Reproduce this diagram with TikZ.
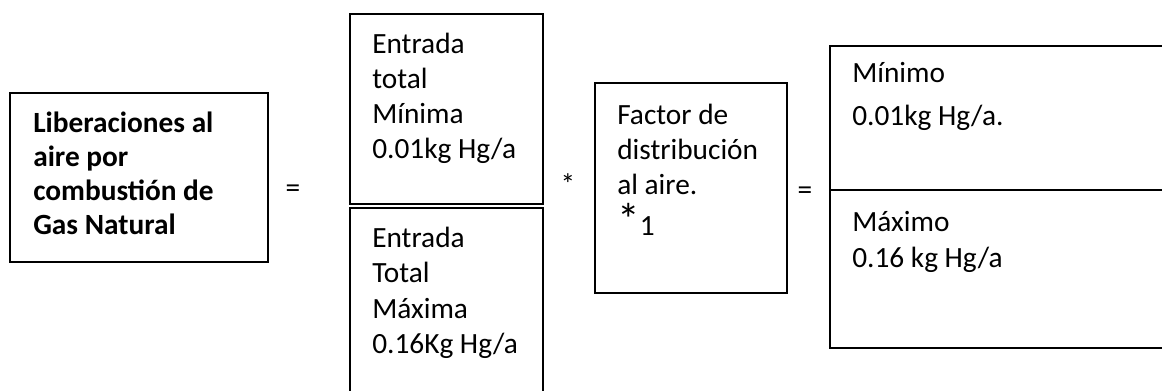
\documentclass[tikz,border=0pt]{standalone}
\usepackage{fontspec}
\setmainfont{Carlito}
\begin{document}
\begin{tikzpicture}[x=0.75pt, y=-0.75pt,
    txt/.style={anchor=base west, inner sep=0pt, align=left, font=\fontsize{22}{26.25}\selectfont},
    sym/.style={anchor=base, inner sep=0pt, font=\fontsize{22}{26}\selectfont},
    frame/.style={line width=1.1pt}]
    \clip (0,0) rectangle (1162,391);
    \fill[white] (0,0) rectangle (1162,391);

    % Draw the boxes
    \draw[frame] (10,93) rectangle (268,262);
    \draw[frame] (350,14) rectangle (543,204);
    \draw[frame] (350,208) rectangle (543,400);
    \draw[frame] (595,83) rectangle (787,293);
    \draw[frame] (830,46) rectangle (1180,348);
    \draw[frame] (830,190) -- (1180,190);

    % Texts in the boxes (anchored at the last line)
    \node[txt, font=\fontsize{22}{25.5}\selectfont\bfseries] (liberaciones) at (33,235)
        {Liberaciones al\\aire por\\combustión de\\Gas Natural};
    \node[txt] (entmin) at (372,159) {Entrada\\total\\Mínima\\0.01kg Hg/a};
    \node[txt] (entmax) at (372,353) {Entrada\\Total\\Máxima\\0.16Kg Hg/a};
    \node[txt] (factor) at (617,236)
        {Factor de\\distribución\\al aire.\\[5pt]{\fontsize{34}{34}\selectfont *}1};
    \node[txt, font=\fontsize{22}{32.25}\selectfont] (minimo) at (852,126) {Mínimo\\0.01kg Hg/a.};
    \node[txt, font=\fontsize{22}{27}\selectfont] (maximo) at (852,268) {Máximo\\0.16 kg Hg/a};

    % Operators
    \node[sym] (eqleft) at (293,198) {=};
    \node[sym] (times) at (568,195) {*};
    \node[sym] (eqright) at (805,200) {=};
\end{tikzpicture}
\end{document}
